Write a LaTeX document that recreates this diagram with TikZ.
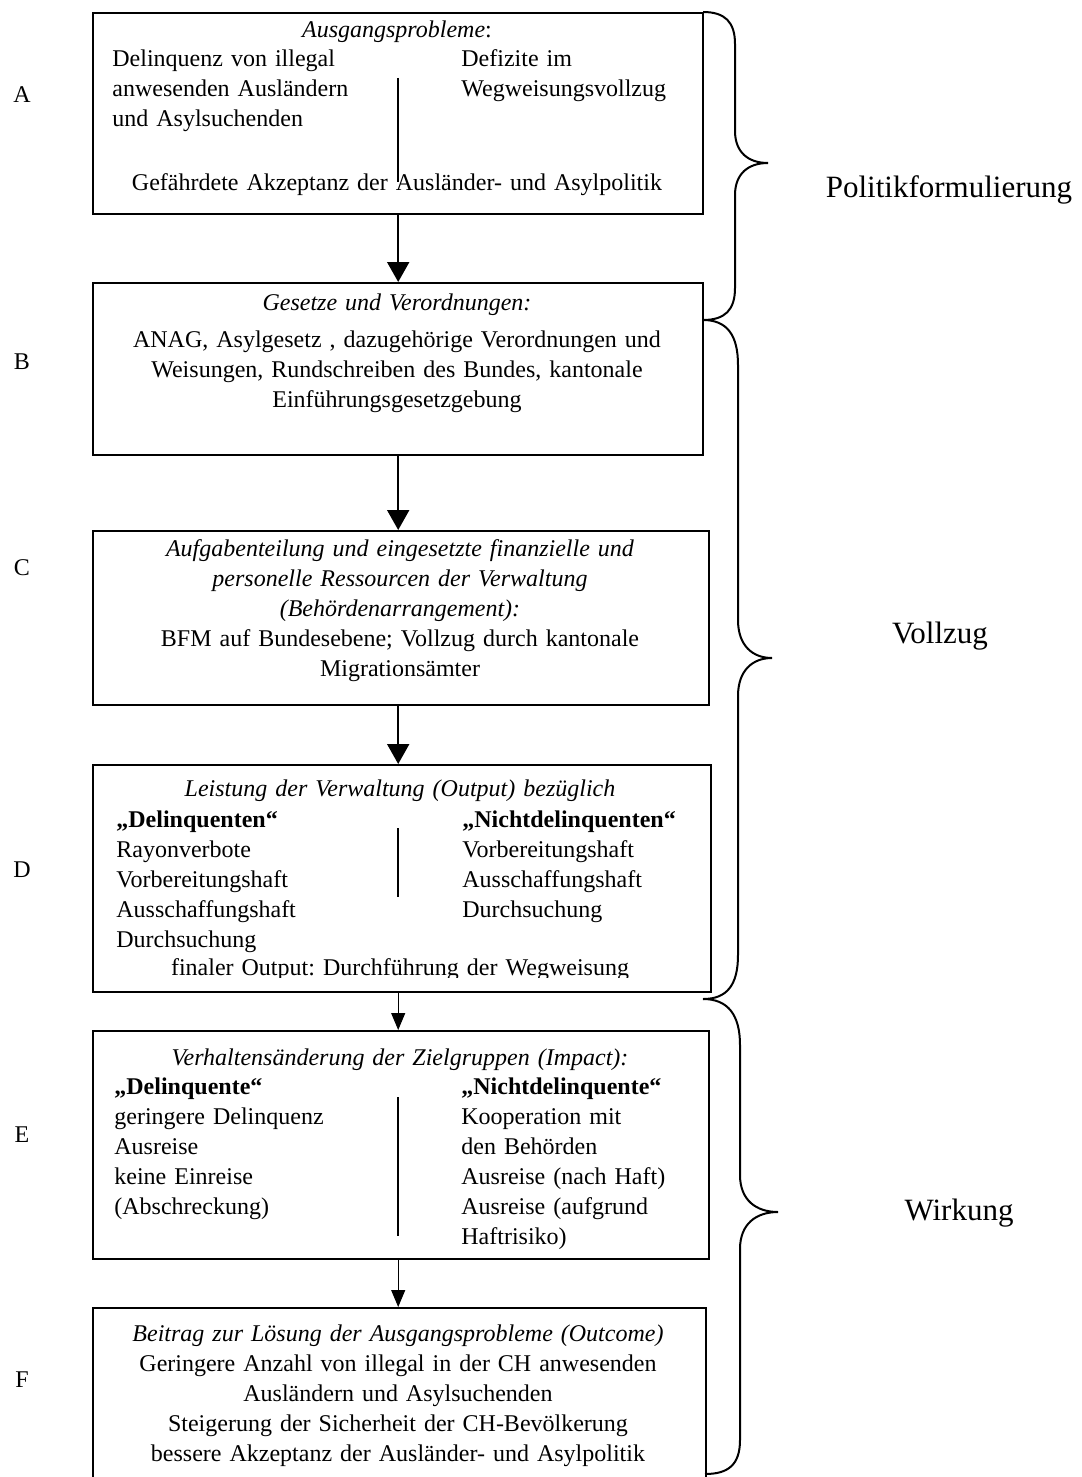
\documentclass[tikz,border=0pt]{standalone}
\usepackage{fontspec}
\setmainfont{Liberation Serif}
\usetikzlibrary{arrows.meta}
\frenchspacing
\tikzset{
  box/.style={draw,line width=1.2pt,anchor=north west,inner sep=0pt},
  txt/.style={font=\fontsize{12}{15}\selectfont,inner sep=0pt,anchor=base west,align=left,text width=130pt},
  ctxt/.style={font=\fontsize{12}{15}\selectfont,inner sep=0pt,anchor=base,align=center,text width=300pt},
  side/.style={font=\fontsize{15.5}{18}\selectfont,inner sep=0pt},
  letter/.style={font=\fontsize{12}{14}\selectfont,inner sep=0pt},
  flow/.style={-{Triangle[width=11pt,length=10pt]},line width=1pt},
  thinflow/.style={-{Triangle[width=7pt,length=8.5pt]},line width=0.5pt},
  brace/.style={line width=1pt},
  divider/.style={line width=1pt}
}
\begin{document}
\begin{tikzpicture}[x=0.5pt,y=-0.5pt]
\useasboundingbox (0,0) rectangle (1081,1477);
\node[box,minimum width=305pt,minimum height=100.5pt] (boxA) at (92,12) {};
\node[box,minimum width=305pt,minimum height=86pt] (boxB) at (92,282) {};
\node[box,minimum width=308pt,minimum height=87pt] (boxC) at (92,530) {};
\node[box,minimum width=309pt,minimum height=113.5pt] (boxD) at (92,764) {};
\node[box,minimum width=308pt,minimum height=114pt] (boxE) at (92,1030) {};
\node[box,minimum width=306.5pt,minimum height=85pt] (boxF) at (92,1307) {};
\node[letter] (labA) at (22,95) {A};
\node[letter] (labB) at (22,362) {B};
\node[letter] (labC) at (22,568) {C};
\node[letter] (labD) at (22,870) {D};
\node[letter] (labE) at (22,1135) {E};
\node[letter] (labF) at (22,1380) {F};
\node[ctxt] (titA) at (397,38) {\textit{Ausgangsprobleme}:};
\node[txt] (leftA) at (112,67) {Delinquenz von illegal\\anwesenden Ausländern\\und Asylsuchenden};
\node[txt] (rightA) at (461,67) {Defizite im\\Wegweisungsvollzug};
\node[ctxt] (botA) at (397,190) {Gefährdete Akzeptanz der Ausländer- und Asylpolitik};
\draw[divider] (398,78) -- (398,182);
\node[ctxt] (titB) at (397,310) {\textit{Gesetze und Verordnungen:}};
\node[ctxt] (txtB) at (397,347) {ANAG, Asylgesetz , dazugehörige Verordnungen und\\Weisungen, Rundschreiben des Bundes, kantonale\\Einführungsgesetzgebung};
\node[ctxt] (txtC) at (400,556) {\textit{Aufgabenteilung und eingesetzte finanzielle und}\\\textit{personelle Ressourcen der Verwaltung}\\\textit{(Behördenarrangement):}\\BFM auf Bundesebene; Vollzug durch kantonale\\Migrationsämter};
\node[ctxt] (titD) at (400,796) {\textit{Leistung der Verwaltung (Output) bezüglich}};
\node[txt] (leftD) at (116,827) {\textbf{„Delinquenten“}\\Rayonverbote\\Vorbereitungshaft\\Ausschaffungshaft\\Durchsuchung};
\node[txt] (rightD) at (462,827) {\textbf{„Nichtdelinquenten“}\\Vorbereitungshaft\\Ausschaffungshaft\\Durchsuchung};
\begin{scope}
\clip (92,764) rectangle (710,977);
\node[ctxt] (finD) at (400,975) {finaler Output: Durchführung der Wegweisung};
\end{scope}
\draw[divider] (398,828) -- (398,897);
\node[ctxt] (titE) at (400,1065) {\textit{Verhaltensänderung der Zielgruppen (Impact):}};
\node[txt] (leftE) at (114,1094) {\textbf{„Delinquente“}\\geringere Delinquenz\\Ausreise\\keine Einreise\\(Abschreckung)};
\node[txt] (rightE) at (461,1094) {\textbf{„Nichtdelinquente“}\\Kooperation mit\\den Behörden\\Ausreise (nach Haft)\\Ausreise (aufgrund\\Haftrisiko)};
\draw[divider] (398,1097) -- (398,1236);
\node[ctxt] (txtF) at (398,1341) {\textit{Beitrag zur Lösung der Ausgangsprobleme (Outcome)}\\Geringere Anzahl von illegal in der CH anwesenden\\Ausländern und Asylsuchenden\\Steigerung der Sicherheit der CH-Bevölkerung\\bessere Akzeptanz der Ausländer- und Asylpolitik};
\draw[flow] (boxA.south) -- (boxA.south |- boxB.north);
\draw[flow] (boxB.south) -- (boxB.south |- boxC.north);
\draw[flow] (boxC.south -| boxB.south) -- (boxB.south |- boxD.north);
\draw[thinflow] (boxD.south -| boxB.south) -- (boxB.south |- boxE.north);
\draw[thinflow] (boxE.south -| boxB.south) -- (boxB.south |- boxF.north);
\draw[brace] (703,12) .. controls (725,12) and (735,22) .. (735,44) -- (735,131) .. controls (735,152) and (748,163) .. (768,163) .. controls (748,163) and (735,174) .. (735,195) -- (735,288) .. controls (735,310) and (725,320) .. (703,320);
\draw[brace] (703,320) .. controls (727,320) and (738,335) .. (738,365) -- (738,620) .. controls (738,645) and (752,658) .. (772,658) .. controls (752,658) and (738,671) .. (738,696) -- (738,955) .. controls (738,985) and (727,999) .. (703,999);
\draw[brace] (703,999) .. controls (728,999) and (740,1015) .. (740,1045) -- (740,1175) .. controls (740,1200) and (756,1212) .. (778,1212) .. controls (756,1212) and (740,1224) .. (740,1249) -- (740,1440) .. controls (740,1465) and (728,1474) .. (705,1474);
\node[side] (polform) at (949,190) {Politikformulierung};
\node[side] (vollzug) at (940,636) {Vollzug};
\node[side] (wirkung) at (959,1213) {Wirkung};
\end{tikzpicture}
\end{document}
